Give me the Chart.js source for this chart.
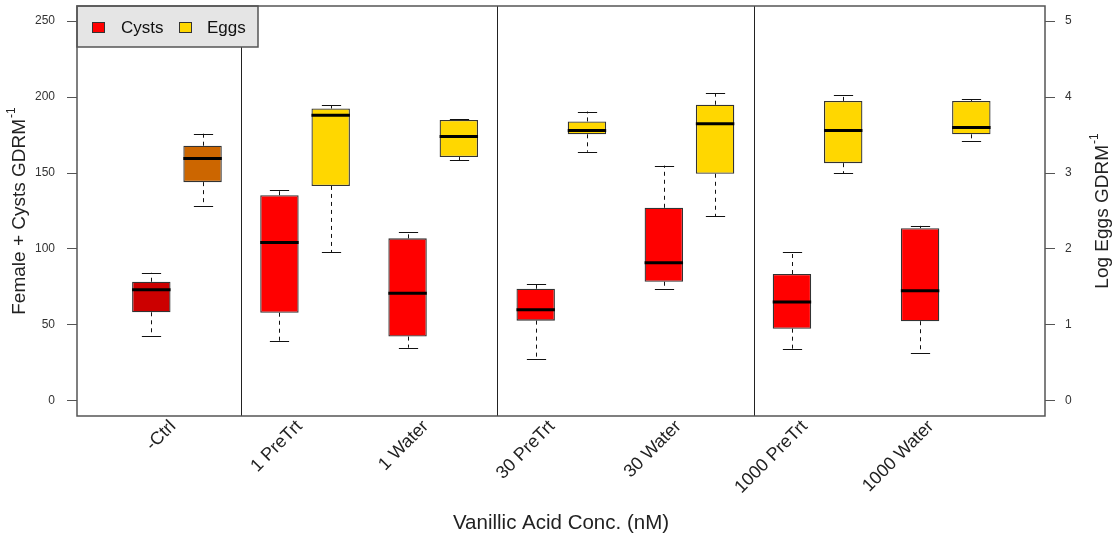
<!DOCTYPE html>
<html><head><meta charset="utf-8">
<script src="https://cdn.jsdelivr.net/npm/chart.js@4.4.1/dist/chart.umd.min.js"></script>
<style>html,body{margin:0;padding:0;background:#fff;}canvas{display:block;}</style>
</head><body>
<canvas id="c" width="1117" height="542"></canvas>
<script>
// ---------- data ----------
const categories = ['-Ctrl', '1 PreTrt', '1 Water', '30 PreTrt', '30 Water', '1000 PreTrt', '1000 Water'];
// Cysts : Female + Cysts GDRM^-1 (left axis)
const cystsMin    = [42.9, 39.6, 35.0, 27.6, 73.6, 34.0, 31.8];
const cystsQ1     = [58.3, 58.0, 42.3, 52.8, 78.4, 47.5, 52.4];
const cystsMedian = [73.2, 104.3, 70.8, 60.0, 90.9, 65.1, 72.5];
const cystsQ3     = [78.4, 135.4, 107.0, 73.8, 127.1, 83.5, 113.7];
const cystsMax    = [84.3, 138.9, 110.9, 76.7, 154.9, 97.8, 115.2];
// Eggs : Log Eggs GDRM^-1 (right axis)
const eggsMin    = [2.56, 1.96, 3.17, 3.28, 2.43, 3.00, 3.42];
const eggsQ1     = [2.88, 2.83, 3.21, 3.51, 2.99, 3.13, 3.51];
const eggsMedian = [3.19, 3.76, 3.48, 3.56, 3.65, 3.56, 3.60];
const eggsQ3     = [3.36, 3.85, 3.70, 3.68, 3.90, 3.95, 3.95];
const eggsMax    = [3.52, 3.89, 3.71, 3.81, 4.05, 4.03, 3.97];
const leftTicks  = [0, 50, 100, 150, 200, 250];
const rightTicks = [0, 1, 2, 3, 4, 5];
const groupEnds  = [0, 2, 4]; // category index closing each treatment group

// ---------- layout constants ----------
const EGG_SHIFT = 0.4, LABEL_START = 1.17, LABEL_STEP = 0.986;
const FONT = "'Liberation Sans', Arial, sans-serif";
const cystColors = categories.map((c, i) => i === 0 ? '#CC0000' : '#FF0000');
const eggColors  = categories.map((c, i) => i === 0 ? '#CC6600' : '#FFD700');

const cystsData = categories.map((c, i) => ({x: i + 1, y: [cystsQ1[i], cystsQ3[i]]}));
const eggsData  = categories.map((c, i) => ({x: i + 1 + EGG_SHIFT, y: [eggsQ1[i], eggsQ3[i]]}));

const stats = [
  {min: cystsMin, med: cystsMedian, max: cystsMax},
  {min: eggsMin, med: eggsMedian, max: eggsMax}
];

function drawSupTitle(ctx, main, sup, cx, cy) {
  ctx.save();
  ctx.translate(cx, cy);
  ctx.rotate(-Math.PI / 2);
  ctx.fillStyle = '#222';
  ctx.textBaseline = 'middle';
  ctx.textAlign = 'left';
  ctx.font = '19px ' + FONT;
  const w1 = ctx.measureText(main).width;
  ctx.font = '12px ' + FONT;
  const w2 = ctx.measureText(sup).width;
  const start = -(w1 + w2 + 1) / 2;
  ctx.font = '19px ' + FONT;
  ctx.fillText(main, start, 0);
  ctx.font = '12px ' + FONT;
  ctx.fillText(sup, start + w1 + 1, -8);
  ctx.restore();
}

const boxPlugin = {
  id: 'boxes',
  afterDatasetsDraw(chart) {
    const ctx = chart.ctx;
    stats.forEach((s, di) => {
      const meta = chart.getDatasetMeta(di);
      const ys = chart.scales[meta.yAxisID];
      meta.data.forEach((bar, i) => {
        const x = Math.round(bar.x) + 0.5, w = bar.width;
        const yMin = ys.getPixelForValue(s.min[i]);
        const yMax = ys.getPixelForValue(s.max[i]);
        const yMed = ys.getPixelForValue(s.med[i]);
        const yLo = Math.max(bar.y, bar.base), yHi = Math.min(bar.y, bar.base);
        ctx.save();
        ctx.strokeStyle = '#111';
        ctx.lineWidth = 1;
        ctx.setLineDash([4, 4]);
        ctx.beginPath();
        ctx.moveTo(x, yHi); ctx.lineTo(x, yMax);
        ctx.moveTo(x, yLo); ctx.lineTo(x, yMin);
        ctx.stroke();
        ctx.setLineDash([]);
        ctx.beginPath();
        ctx.moveTo(x - w / 4, Math.round(yMax) + 0.5); ctx.lineTo(x + w / 4, Math.round(yMax) + 0.5);
        ctx.moveTo(x - w / 4, Math.round(yMin) + 0.5); ctx.lineTo(x + w / 4, Math.round(yMin) + 0.5);
        ctx.stroke();
        ctx.lineWidth = 3;
        ctx.strokeStyle = '#000';
        ctx.beginPath();
        ctx.moveTo(bar.x - w / 2, yMed); ctx.lineTo(bar.x + w / 2, yMed);
        ctx.stroke();
        ctx.restore();
      });
    });
  },
  afterDraw(chart) {
    const ctx = chart.ctx, a = chart.chartArea, xs = chart.scales.x;
    ctx.save();
    // group separators
    ctx.strokeStyle = '#222'; ctx.lineWidth = 1;
    groupEnds.forEach(g => {
      const v = ((g + 1 + EGG_SHIFT) + (g + 2)) / 2;
      const px = Math.round(xs.getPixelForValue(v)) + 0.5;
      ctx.beginPath(); ctx.moveTo(px, a.top); ctx.lineTo(px, a.bottom); ctx.stroke();
    });
    // legend box
    const lx = a.left, ly = a.top, lw = 181, lh = 41;
    ctx.fillStyle = '#E5E5E5';
    ctx.fillRect(lx, ly, lw, lh);
    ctx.strokeStyle = '#555'; ctx.lineWidth = 1.5;
    ctx.strokeRect(lx, ly, lw, lh);
    const items = [
      {label: chart.data.datasets[0].label, color: '#FF0000', sx: 92, tx: 121},
      {label: chart.data.datasets[1].label, color: '#FFD700', sx: 179, tx: 207}
    ];
    ctx.font = '17px ' + FONT;
    ctx.textBaseline = 'middle';
    items.forEach(it => {
      ctx.fillStyle = it.color;
      ctx.fillRect(it.sx, ly + 16, 13, 11);
      ctx.strokeStyle = '#333'; ctx.lineWidth = 1;
      ctx.strokeRect(it.sx + 0.5, ly + 16.5, 12, 10);
      ctx.fillStyle = '#111';
      ctx.fillText(it.label, it.tx, ly + 22);
    });
    // frame
    ctx.strokeStyle = '#555'; ctx.lineWidth = 1.5;
    ctx.strokeRect(a.left, a.top, a.right - a.left, a.bottom - a.top);
    ctx.restore();
    // axis titles with superscript
    const cy = (a.top + a.bottom) / 2;
    drawSupTitle(ctx, 'Female + Cysts GDRM', '-1', 20, cy);
    drawSupTitle(ctx, 'Log Eggs GDRM', '-1', 1103, cy);
  }
};

const tickFont = {family: FONT, size: 12};
new Chart(document.getElementById('c'), {
  type: 'bar',
  data: {
    datasets: [
      {label: 'Cysts', data: cystsData, yAxisID: 'y', backgroundColor: cystColors,
       borderColor: '#333', borderWidth: 1.3, borderSkipped: false, grouped: false,
       categoryPercentage: 1, barPercentage: 0.75},
      {label: 'Eggs', data: eggsData, yAxisID: 'y2', backgroundColor: eggColors,
       borderColor: '#333', borderWidth: 1.3, borderSkipped: false, grouped: false,
       categoryPercentage: 1, barPercentage: 0.75}
    ]
  },
  options: {
    responsive: false,
    devicePixelRatio: 1,
    animation: false,
    layout: {padding: {top: 6, left: 0, right: 0, bottom: 0}},
    plugins: {legend: {display: false}, tooltip: {enabled: false}, title: {display: false}},
    scales: {
      x: {
        type: 'linear', min: 0.42, max: 7.975, offset: false,
        afterBuildTicks: s => { s.ticks = categories.map((c, i) => ({value: LABEL_START + i * LABEL_STEP})); },
        afterFit: s => { s.height = 126; s.paddingLeft = 0; s.paddingRight = 0; },
        grid: {display: false, drawTicks: false},
        border: {display: false},
        ticks: {autoSkip: false, minRotation: 45, maxRotation: 45, padding: 0, color: '#222',
                font: {family: FONT, size: 18}, callback: (v, i) => categories[i]},
        title: {display: true, text: 'Vanillic Acid Conc. (nM)', color: '#222',
                font: {family: FONT, size: 20.5}, padding: {top: 0, bottom: 6}}
      },
      y: {
        position: 'left', min: -10, max: 260,
        afterBuildTicks: s => { s.ticks = leftTicks.map(v => ({value: v})); },
        afterFit: s => { s.width = 77; s.paddingTop = 0; s.paddingBottom = 0; },
        grid: {drawOnChartArea: false, drawTicks: true, tickLength: 10, tickColor: '#555', tickWidth: 1},
        border: {display: false},
        ticks: {padding: 12, color: '#333', font: tickFont}
      },
      y2: {
        position: 'right', min: -0.2, max: 5.2,
        afterBuildTicks: s => { s.ticks = rightTicks.map(v => ({value: v})); },
        afterFit: s => { s.width = 72; s.paddingTop = 0; s.paddingBottom = 0; },
        grid: {drawOnChartArea: false, drawTicks: true, tickLength: 10, tickColor: '#555', tickWidth: 1},
        border: {display: false},
        ticks: {padding: 10, color: '#333', font: tickFont}
      }
    }
  },
  plugins: [boxPlugin]
});
</script>
</body></html>
